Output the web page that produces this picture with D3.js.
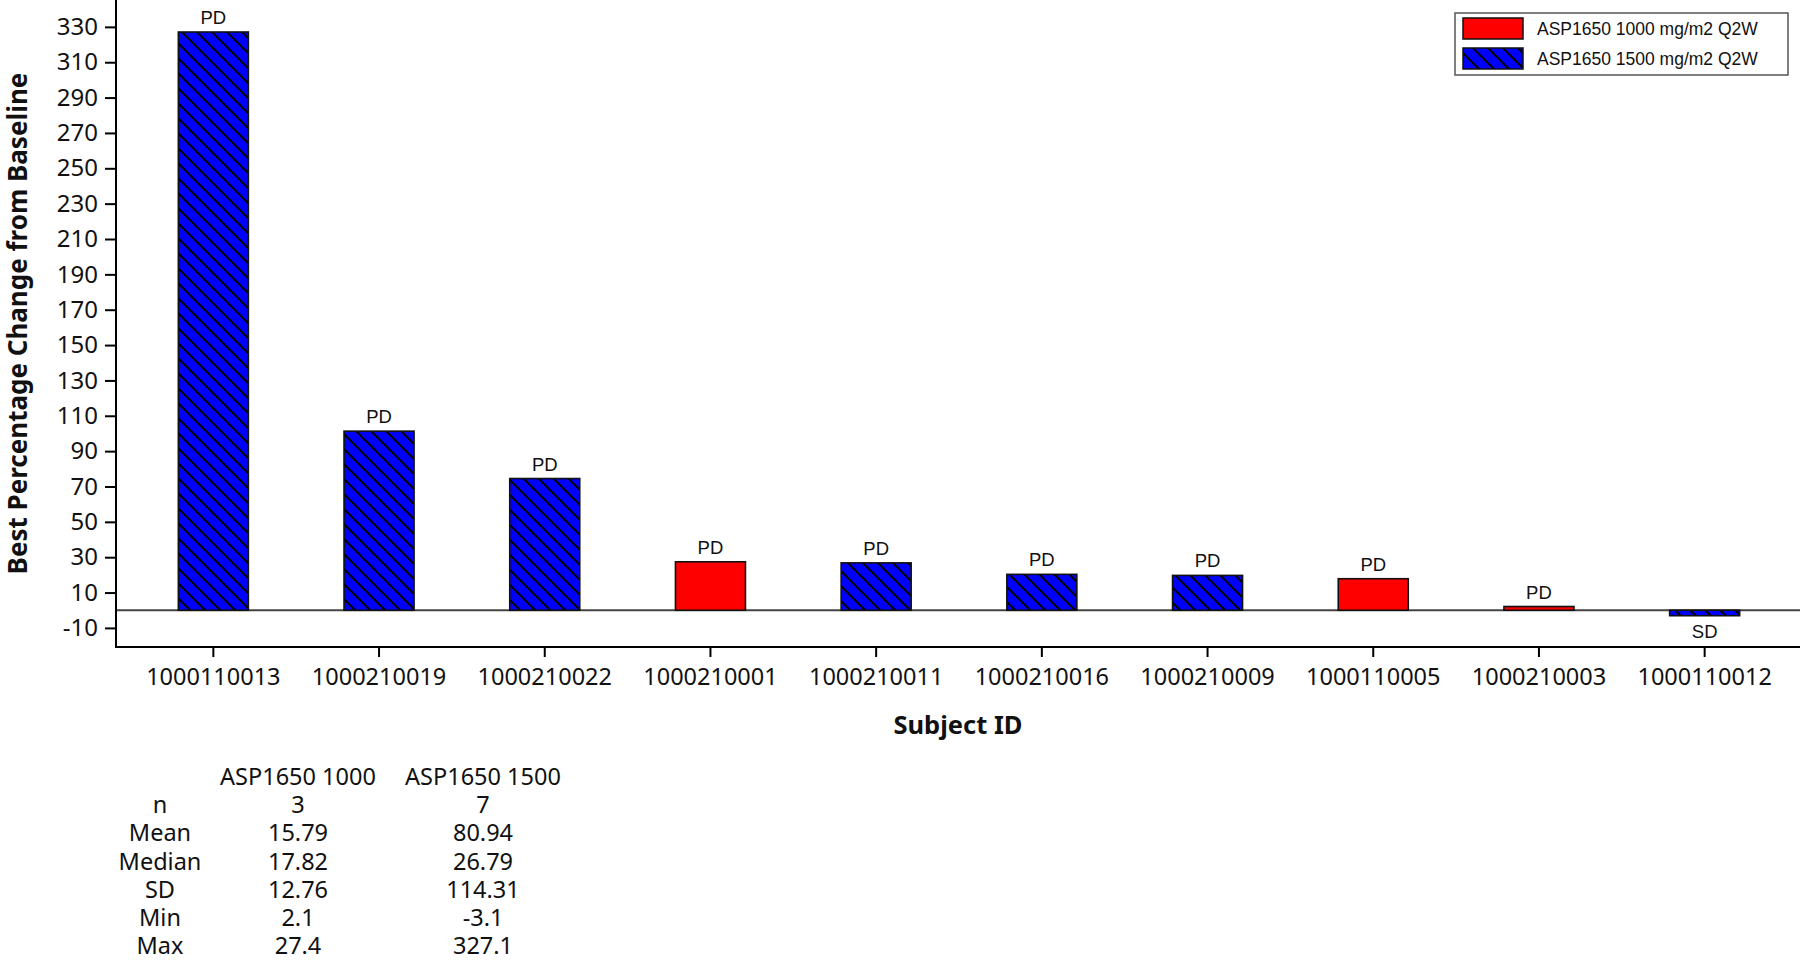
<!DOCTYPE html>
<html>
<head>
<meta charset="utf-8">
<script src="https://cdn.jsdelivr.net/npm/d3@7"></script>
<style>
  body { margin: 0; background: #fff; }
  svg { display: block; }
</style>
</head>
<body>
<svg id="chart" width="1800" height="961"></svg>
<script>
// ---- data ----
const subjectIds = ["1000110013","1000210019","1000210022","1000210001","1000210011","1000210016","1000210009","1000110005","1000210003","1000110012"];
const bestChange = [327.1, 101.3, 74.5, 27.4, 26.79, 20.3, 19.7, 17.82, 2.1, -3.1];
const doseGroup = ["1500","1500","1500","1000","1500","1500","1500","1000","1000","1500"];
const responseLabel = ["PD","PD","PD","PD","PD","PD","PD","PD","PD","SD"];
const yTickValues = [-10,10,30,50,70,90,110,130,150,170,190,210,230,250,270,290,310,330];
const legendLabels = ["ASP1650 1000 mg/m2 Q2W", "ASP1650 1500 mg/m2 Q2W"];
const legendGroups = ["1000","1500"];
const statHeaders = ["ASP1650 1000", "ASP1650 1500"];
const statNames = ["n","Mean","Median","SD","Min","Max"];
const stats1000 = ["3","15.79","17.82","12.76","2.1","27.4"];
const stats1500 = ["7","80.94","26.79","114.31","-3.1","327.1"];

const bars = subjectIds.map((id, i) => ({id, v: bestChange[i], g: doseGroup[i], lab: responseLabel[i]}));

const svg = d3.select("#chart");
const FONT = "'Noto Sans', 'Open Sans', sans-serif";
const FONT2 = "'Liberation Sans', Arial, sans-serif";

// pattern for hatched blue
const defs = svg.append("defs");
const pat = defs.append("pattern").attr("id","hatch").attr("patternUnits","userSpaceOnUse")
  .attr("width",15).attr("height",15);
pat.append("rect").attr("width",15).attr("height",15).attr("fill","#0000FF");
pat.append("path").attr("d","M0,0L15,15M-3,12L3,18M12,-3L18,3")
  .attr("stroke","#000").attr("stroke-width",2);

const fillFor = g => g === "1000" ? "#FF0000" : "url(#hatch)";

// scales
const axisX = 116, plotRight = 1800, axisY = 647;
const x = d3.scaleBand().domain(subjectIds).range([130.5, 1787.5])
  .paddingInner(0.5775).paddingOuter(0.28875);
const y = d3.scaleLinear().domain([-20.8, 345.2]).range([axisY, 0]);

// zero reference line
svg.append("line").attr("x1", axisX).attr("x2", plotRight)
  .attr("y1", y(0)).attr("y2", y(0)).attr("stroke","#444").attr("stroke-width",2);

// bars
svg.append("g").selectAll("rect").data(bars).join("rect")
  .attr("x", d => x(d.id))
  .attr("width", x.bandwidth())
  .attr("y", d => y(Math.max(0, d.v)))
  .attr("height", d => Math.abs(y(d.v) - y(0)))
  .attr("fill", d => fillFor(d.g))
  .attr("stroke", "#111").attr("stroke-width", 1.6);

// bar labels
svg.append("g").selectAll("text").data(bars).join("text")
  .attr("x", d => x(d.id) + x.bandwidth()/2)
  .attr("y", d => d.v >= 0 ? y(d.v) - 8 : y(d.v) + 22)
  .attr("text-anchor","middle")
  .attr("font-family", FONT2).attr("font-size", 18.5).attr("fill","#111")
  .text(d => d.lab);

// y axis
const gy = svg.append("g").attr("transform", `translate(${axisX},0)`)
  .call(d3.axisLeft(y).tickValues(yTickValues).tickSize(11).tickPadding(7).tickFormat(d => String(d)));
gy.select(".domain").remove();
gy.selectAll(".tick line").attr("stroke","#000").attr("stroke-width",2);
gy.selectAll(".tick text").attr("font-family", FONT).attr("font-size", 24).attr("fill","#111");
svg.append("line").attr("x1",axisX).attr("x2",axisX).attr("y1",0).attr("y2",axisY+1)
  .attr("stroke","#000").attr("stroke-width",2);

// x axis
const gx = svg.append("g").attr("transform", `translate(0,${axisY})`)
  .call(d3.axisBottom(x).tickSize(10).tickPadding(11));
gx.select(".domain").remove();
gx.selectAll(".tick line").attr("stroke","#000").attr("stroke-width",2);
gx.selectAll(".tick text").attr("font-family", FONT).attr("font-size", 23.5).attr("fill","#111");
svg.append("line").attr("x1",axisX-1).attr("x2",plotRight).attr("y1",axisY).attr("y2",axisY)
  .attr("stroke","#000").attr("stroke-width",2);

// axis titles
svg.append("text")
  .attr("transform", `translate(17,${axisY/2}) rotate(-90)`)
  .attr("text-anchor","middle").attr("dominant-baseline","central")
  .attr("font-family", FONT).attr("font-weight","bold").attr("font-size", 26).attr("fill","#111")
  .text("Best Percentage Change from Baseline");
svg.append("text")
  .attr("x", (axisX + plotRight)/2).attr("y", 734)
  .attr("text-anchor","middle")
  .attr("font-family", FONT).attr("font-weight","bold").attr("font-size", 25.5).attr("fill","#111")
  .text("Subject ID");

// legend
const lg = svg.append("g");
lg.append("rect").attr("x",1455).attr("y",13).attr("width",333).attr("height",62)
  .attr("fill","#fff").attr("stroke","#555").attr("stroke-width",1.5);
legendGroups.forEach((g, i) => {
  const yy = 18 + i*30;
  lg.append("rect").attr("x",1463).attr("y",yy).attr("width",60).attr("height",21)
    .attr("fill", fillFor(g)).attr("stroke","#111").attr("stroke-width",1.5);
  lg.append("text").attr("x",1537).attr("y",yy+10.5).attr("dominant-baseline","central")
    .attr("font-family", FONT2).attr("font-size",17.5).attr("fill","#111")
    .text(legendLabels[i]);
});

// statistics table
const tbl = svg.append("g").attr("font-family", FONT).attr("font-size", 23.5).attr("fill","#111")
  .attr("text-anchor","middle");
const colX = [160, 298, 483];
const rowY0 = 785, rowStep = 28.2;
statHeaders.forEach((h, i) => {
  tbl.append("text").attr("x", colX[i+1]).attr("y", rowY0).text(h);
});
statNames.forEach((s, i) => {
  const yy = rowY0 + (i+1)*rowStep;
  tbl.append("text").attr("x", colX[0]).attr("y", yy).text(s);
  tbl.append("text").attr("x", colX[1]).attr("y", yy).text(stats1000[i]);
  tbl.append("text").attr("x", colX[2]).attr("y", yy).text(stats1500[i]);
});
</script>
</body>
</html>
